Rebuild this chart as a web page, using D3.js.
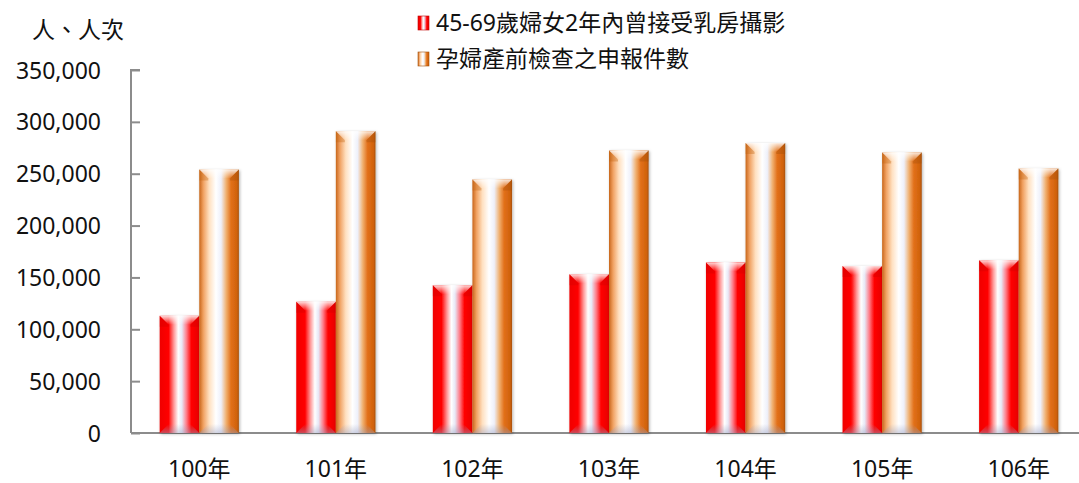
<!DOCTYPE html>
<html><head><meta charset="utf-8">
<script src="https://cdn.jsdelivr.net/npm/d3@7"></script>
<style>
html,body{margin:0;padding:0;background:#fff;}
text{font-family:"Noto Sans","Noto Sans CJK TC",sans-serif;fill:#111;}
</style></head>
<body>
<svg id="c" width="1079" height="483"></svg>
<script>
const categories = ["100年","101年","102年","103年","104年","105年","106年"];
const seriesNames = ["45-69歲婦女2年內曾接受乳房攝影","孕婦產前檢查之申報件數"];
const mammography = [113000,126500,142500,153000,164500,161000,166500];
const prenatal = [254000,291000,244500,272500,279500,270500,255000];
const yTicks = [0,50000,100000,150000,200000,250000,300000,350000];
const unitLabel = "人、人次";

(function(){
const svg = d3.select("#c");
const W = 1079;
const mLeft = 131, mTop = 70, mBottom = 433;

const x = d3.scaleBand().domain(categories).range([mLeft, 1087]).paddingInner(0.42).paddingOuter(0.21);
const x1 = d3.scaleBand().domain([0,1]).range([0, x.bandwidth()]);
const y = d3.scaleLinear().domain([0,350000]).range([mBottom, mTop]);

const defs = svg.append("defs");
function hgrad(id, stops){
  const g = defs.append("linearGradient").attr("id",id).attr("x1","0").attr("x2","1").attr("y1","0").attr("y2","0");
  stops.forEach(s=>g.append("stop").attr("offset",s[0]).attr("stop-color",s[1]));
}
hgrad("gRed",[[0,"#f00000"],[0.22,"#ff0000"],[0.36,"#ff9a9a"],[0.47,"#ffffff"],[0.56,"#e8e8f6"],[0.68,"#ff7a86"],[0.8,"#ff0000"],[1,"#e80000"]]);
hgrad("gOr",[[0,"#c8661a"],[0.1,"#f0a060"],[0.25,"#ffe0c0"],[0.42,"#ffffff"],[0.55,"#eef0fa"],[0.68,"#f0b070"],[0.8,"#e2701a"],[0.95,"#d0620c"],[1,"#a8520c"]]);
const vt = defs.append("linearGradient").attr("id","gTop").attr("x1","0").attr("x2","0").attr("y1","0").attr("y2","1");
vt.append("stop").attr("offset",0).attr("stop-color","#fff").attr("stop-opacity",0.85);
vt.append("stop").attr("offset",1).attr("stop-color","#fff").attr("stop-opacity",0);
const vb = defs.append("linearGradient").attr("id","gBot").attr("x1","0").attr("x2","0").attr("y1","0").attr("y2","1");
vb.append("stop").attr("offset",0).attr("stop-color","#9aa0c0").attr("stop-opacity",0);
vb.append("stop").attr("offset",1).attr("stop-color","#9aa0c0").attr("stop-opacity",0.45);
const f = defs.append("filter").attr("id","sh").attr("x","-20%").attr("y","-5%").attr("width","140%").attr("height","110%");
f.append("feDropShadow").attr("dx",1).attr("dy",1).attr("stdDeviation",1.5).attr("flood-color","#000").attr("flood-opacity",0.3);

const yAxis = d3.axisLeft(y).tickValues(yTicks).tickSize(-9).tickPadding(30).tickFormat(d3.format(","));
const gy = svg.append("g").attr("transform",`translate(${mLeft},0)`).call(yAxis);
gy.select(".domain").attr("stroke","#8c8c8c").attr("stroke-width",2).attr("d",`M9,${mTop}H0V${mBottom}`);
gy.selectAll(".tick line").attr("stroke","#8c8c8c").attr("stroke-width",2);
gy.selectAll(".tick text").attr("font-size",23).attr("fill","#111").attr("font-family",'"Noto Sans","Noto Sans CJK TC",sans-serif').attr("dy","0.35em");

const xAxis = d3.axisBottom(x).tickSize(0).tickPadding(28);
const gx = svg.append("g").attr("transform",`translate(0,${mBottom})`).call(xAxis);
gx.select(".domain").attr("stroke","#8c8c8c").attr("stroke-width",2).attr("d",`M${mLeft},0H${W}`);
gx.selectAll(".tick text").attr("font-size",23).attr("fill","#111").attr("font-family",'"Noto Sans","Noto Sans CJK TC",sans-serif');

const series = [mammography, prenatal];
const fills = ["url(#gRed)","url(#gOr)"];
const bw = x1.bandwidth();
categories.forEach((c,i)=>{
  series.forEach((arr,s)=>{
    const bx = x(c)+x1(s), by = y(arr[i]), bh = y(0)-y(arr[i]);
    const g = svg.append("g");
    g.append("rect").attr("x",bx).attr("y",by).attr("width",bw).attr("height",bh).attr("fill",fills[s]).attr("filter","url(#sh)");
    const bv = 9;
    g.append("path").attr("d",`M${bx},${by}H${bx+bw}L${bx+bw-bv},${by+bv}H${bx+bv}Z`).attr("fill","url(#gTop)");
    g.append("path").attr("d",`M${bx},${by}L${bx+bv},${by+bv}V${by+bv+2}L${bx},${by+bv+2}Z`).attr("fill", s===0?"#d00000":"#c0600c").attr("opacity",0.35);
    g.append("path").attr("d",`M${bx+bw},${by}L${bx+bw-bv},${by+bv}V${by+bv+2}L${bx+bw},${by+bv+2}Z`).attr("fill", s===0?"#d00000":"#a04e08").attr("opacity",0.35);
    g.append("path").attr("d",`M${bx},${mBottom}H${bx+bw}L${bx+bw-bv},${mBottom-bv}H${bx+bv}Z`).attr("fill","url(#gBot)");
  });
});

svg.append("text").attr("x",32).attr("y",38).attr("font-size",23).text(unitLabel);

const lg = svg.append("g");
seriesNames.forEach((n,s)=>{
  const ly = 23 + s*36;
  lg.append("rect").attr("x",418).attr("y",ly-7).attr("width",11).attr("height",14).attr("fill",fills[s]).attr("stroke",s===0?"#c00000":"#a0500c").attr("stroke-width",0.6);
  lg.append("text").attr("x",436).attr("y",ly).attr("dy","0.36em").attr("font-size",23).text(n);
});
})();
</script>
</body></html>
